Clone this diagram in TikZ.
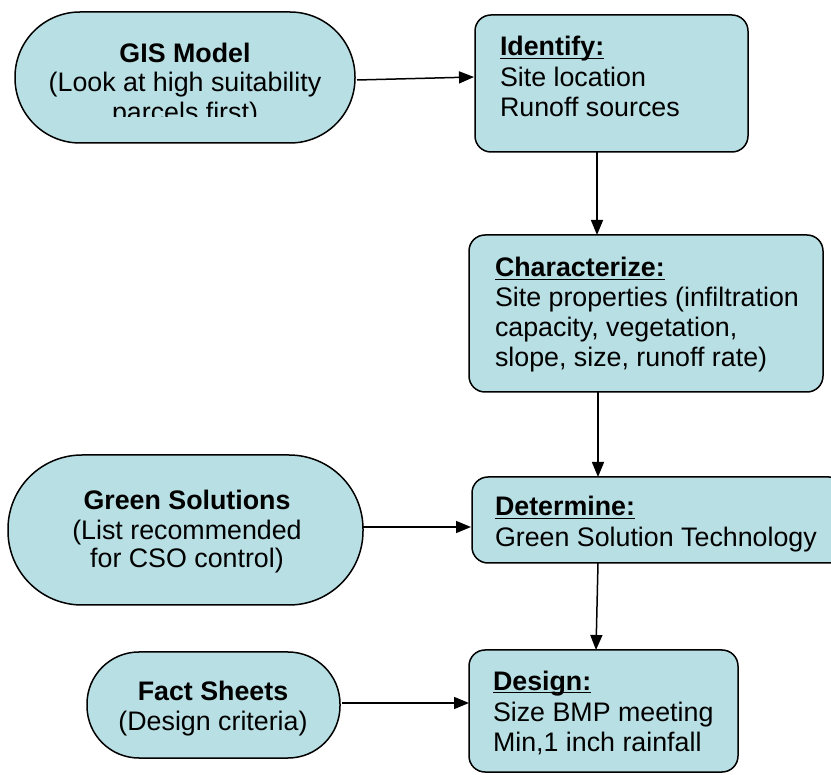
\documentclass[tikz,border=0pt]{standalone}
\usepackage{fontspec}
\setmainfont{Liberation Sans}
\usetikzlibrary{arrows.meta,calc}
\definecolor{boxfill}{RGB}{184,223,227}
\newcommand\myul[1]{\setbox0\hbox{#1}\rlap{\rule[-3.5pt]{\wd0}{1.8pt}}\box0}
\begin{document}
\begin{tikzpicture}[x=1pt,y=-1pt,
  every node/.style={inner sep=0pt,outer sep=0pt},
  shapebox/.style={draw=black,fill=boxfill,line width=1.5pt,rectangle,minimum width=#1},
  stad/.style={rounded corners=#1},
  rbox/.style={rounded corners=16pt},
  txt/.style={font=\fontsize{26.8}{30}\selectfont},
  ltxt/.style={txt,anchor=base west},
  ctxt/.style={txt,anchor=base},
  arr/.style={line width=1.5pt,-{Triangle[length=15pt,width=12pt]}}
]
\clip (0,0) rectangle (831,775);
% shapes
\node[shapebox=340pt,minimum height=131pt,stad=65pt] (gis) at (185,77.5) {};
\node[shapebox=273pt,minimum height=137pt,rbox] (ident) at (611.5,83.5) {};
\node[shapebox=354pt,minimum height=157pt,rbox] (char) at (646,313.5) {};
\node[shapebox=373pt,minimum height=86pt,rbox] (determ) at (658.5,520) {};
\node[shapebox=269pt,minimum height=122pt,rbox] (design) at (603.5,711) {};
\node[shapebox=355pt,minimum height=150pt,stad=74pt] (green) at (185.5,530) {};
\node[shapebox=253pt,minimum height=106pt,stad=52pt] (fact) at (213.5,705) {};
% texts
\node[ctxt] (gis1) at (185,63) {\textbf{GIS Model}};
\node[ctxt] (gis2) at (185,92) {(Look at high suitability};
\begin{scope}
\clip (0,0) rectangle (831,117);
\node[ctxt] (gis3) at (185,122) {parcels first)};
\end{scope}
\node[ltxt] (id1) at (500,56) {\myul{\textbf{Identify:}}};
\node[ltxt] (id2) at (500,87) {Site location};
\node[ltxt] (id3) at (500,117) {Runoff sources};
\node[ltxt] (ch1) at (495,277) {\myul{\textbf{Characterize:}}};
\node[ltxt] (ch2) at (495,307) {Site properties (infiltration};
\node[ltxt] (ch3) at (495,337) {capacity, vegetation,};
\node[ltxt] (ch4) at (495,367) {slope, size, runoff rate)};
\node[ltxt] (de1) at (495,516) {\myul{\textbf{Determine:}}};
\node[ltxt] (de2) at (495,547) {Green Solution Technology};
\node[ltxt] (ds1) at (493,690) {\myul{\textbf{Design:}}};
\node[ltxt] (ds2) at (493,721) {Size BMP meeting};
\node[ltxt] (ds3) at (493,751) {Min,1 inch rainfall};
\node[ctxt] (gr1) at (187,510) {\textbf{Green Solutions}};
\node[ctxt] (gr2) at (187,540) {(List recommended};
\node[ctxt] (gr3) at (187,568) {for CSO control)};
\node[ctxt] (fa1) at (213,700) {\textbf{Fact Sheets}};
\node[ctxt] (fa2) at (213,730) {(Design criteria)};
% connectors
\draw[arr] ($(gis.east)+(2,2.5)$) -- ($(ident.west)+(-1,-6.5)$);
\draw[arr] ($(ident.south)+(-14.5,0)$) -- ($(char.north)+(-49,0)$);
\draw[arr] ($(char.south)+(-48,0)$) -- ($(determ.north)+(-60.5,0)$);
\draw[arr] ($(green.east)+(0,-3)$) -- ($(determ.west)+(-1,7)$);
\draw[arr] ($(determ.south)+(-60.5,0)$) -- ($(design.north)+(-7.5,0)$);
\draw[arr] ($(fact.east)+(2,-2)$) -- ($(design.west)+(0,-8)$);
\end{tikzpicture}
\end{document}
